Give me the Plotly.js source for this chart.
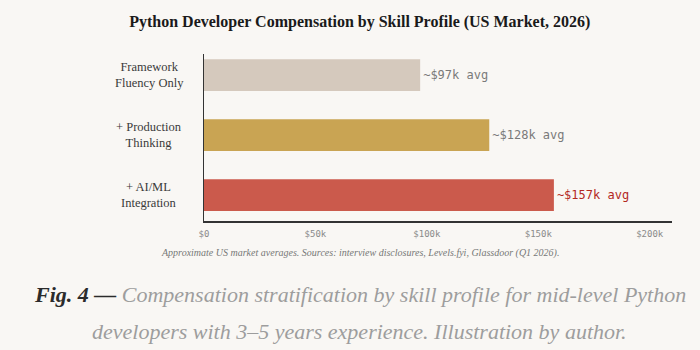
<!DOCTYPE html>
<html><head><meta charset="utf-8">
<script src="https://cdn.plot.ly/plotly-3.0.1.min.js"></script>
<style>html,body{margin:0;padding:0;background:#f9f7f4;}#chart{width:700px;height:350px;}</style>
</head><body><div id="chart"></div>
<script>
const categories = ["Framework<br>Fluency Only", "+ Production<br>Thinking", "+ AI/ML<br>Integration"];
const salaries = [97000, 128000, 157000];
const valueLabels = ["~$97k avg", "~$128k avg", "~$157k avg"];
const barColors = ["#d5c9bd", "#c9a453", "#cb5a4c"];
const labelColors = ["#7a7a7a", "#7a7a7a", "#b3281f"];
const xTickVals = [0, 50000, 100000, 150000, 200000];
const xTickText = ["$0", "$50k", "$100k", "$150k", "$200k"];

const trace = {
  type: "bar", orientation: "h",
  x: salaries, y: [0, 1, 2],
  marker: {color: barColors, line: {width: 0}},
  width: 0.53,
  text: valueLabels, textposition: "outside",
  textfont: {family: "DejaVu Sans Mono", size: 12, color: labelColors},
  cliponaxis: false, hoverinfo: "none"
};

const annotations = categories.map((c, i) => ({
  text: c, xref: "paper", yref: "y", x: -0.1175, y: i,
  xanchor: "center", yanchor: "middle", align: "center", showarrow: false,
  font: {family: "Liberation Serif", size: 12.5, color: "#3a3a3a"}
}));
annotations.push({
  text: "<i>Approximate US market averages. Sources: interview disclosures, Levels.fyi, Glassdoor (Q1 2026).</i>",
  xref: "paper", yref: "paper", x: 0.333, y: -0.191, xanchor: "center", yanchor: "middle",
  showarrow: false, font: {family: "Liberation Serif", size: 10, color: "#777"}
});
annotations.push({
  text: "<b><i><span style='color:#2b2b2b'>Fig. 4 —</span></i></b><i> Compensation stratification by skill profile for mid-level Python</i>",
  xref: "paper", yref: "paper", x: 0.333, y: -0.443, xanchor: "center", yanchor: "middle",
  showarrow: false, font: {family: "Liberation Serif", size: 22, color: "#9d9d9d"}
});
annotations.push({
  text: "<i>developers with 3–5 years experience. Illustration by author.</i>",
  xref: "paper", yref: "paper", x: 0.333, y: -0.664, xanchor: "center", yanchor: "middle",
  showarrow: false, font: {family: "Liberation Serif", size: 22, color: "#9d9d9d"}
});

const layout = {
  width: 700, height: 350,
  paper_bgcolor: "#f9f7f4", plot_bgcolor: "#f9f7f4",
  margin: {l: 204, r: 28, t: 54, b: 129},
  title: {text: "<b>Python Developer Compensation by Skill Profile (US Market, 2026)</b>",
    x: 0.514, xanchor: "center", y: 0.94, yanchor: "middle", yref: "container",
    font: {family: "Liberation Serif", size: 16, color: "#1a1a1a"}},
  xaxis: {range: [0, 210000], tickvals: xTickVals, ticktext: xTickText,
    showgrid: false, zeroline: false, showline: true, linecolor: "#333", linewidth: 1.5,
    ticks: "", tickfont: {family: "DejaVu Sans Mono", size: 9, color: "#8a8a8a"}, ticklabelstandoff: 4},
  yaxis: {range: [2.433, -0.353], showticklabels: false, showgrid: false, zeroline: false,
    showline: true, linecolor: "#333", linewidth: 1.5, ticks: ""},
  showlegend: false, annotations: annotations
};
Plotly.newPlot("chart", [trace], layout, {staticPlot: true});
</script></body></html>
